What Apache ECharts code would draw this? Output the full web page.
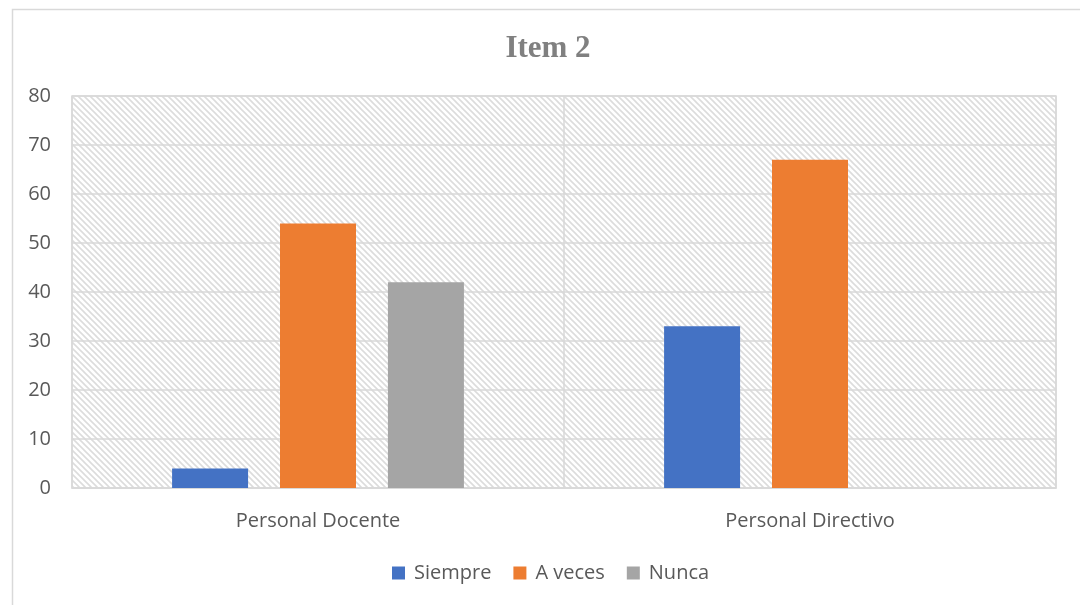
<!DOCTYPE html>
<html><head><meta charset="utf-8">
<script src="https://cdn.jsdelivr.net/npm/echarts@6/dist/echarts.min.js"></script>
<style>html,body{margin:0;padding:0;background:#fff}#c{width:1080px;height:605px}</style>
</head><body><div id="c"></div>
<script>
const categories = ['Personal Docente', 'Personal Directivo'];
const siempre = [4, 33];
const aVeces = [54, 67];
const nunca = [42, 0];
const yTicks = [0, 10, 20, 30, 40, 50, 60, 70, 80];

const pc = document.createElement('canvas');
pc.width = 6; pc.height = 6;
const g = pc.getContext('2d');
g.fillStyle = '#ffffff'; g.fillRect(0, 0, 6, 6);
g.strokeStyle = '#dcdcdc'; g.lineWidth = 1.6;
g.beginPath();
g.moveTo(-1, -1); g.lineTo(7, 7);
g.moveTo(-7, -1); g.lineTo(1, 7);
g.moveTo(5, -1); g.lineTo(13, 7);
g.stroke();

const chart = echarts.init(document.getElementById('c'), null, {renderer: 'canvas'});
const fontF = '"Open Sans", "Noto Sans", sans-serif';
chart.setOption({
  animation: false,
  title: {
    text: 'Item 2', left: 543, textAlign: 'center', top: 28,
    textStyle: {fontFamily: '"Liberation Serif", serif', fontWeight: 'bold', fontSize: 31, color: '#808080'}
  },
  graphic: [{
    type: 'rect', left: 10, top: 7, shape: {width: 1069, height: 600},
    style: {fill: 'none', stroke: '#d9d9d9', lineWidth: 1.5}, silent: true, z: -1
  }],
  legend: {
    bottom: 17, left: 387, itemWidth: 13, itemHeight: 13, itemGap: 22,
    icon: 'rect',
    textStyle: {fontFamily: fontF, fontSize: 20, color: '#595959', padding: [0, 0, 0, 4]},
    data: ['Siempre', 'A veces', 'Nunca']
  },
  grid: {
    left: 72, right: 24, top: 96, bottom: 117, show: true,
    backgroundColor: {image: pc, repeat: 'repeat'},
    borderColor: '#d9d9d9', borderWidth: 1.5
  },
  xAxis: {
    type: 'category', data: categories,
    axisLine: {lineStyle: {color: '#d9d9d9', width: 1.5}},
    axisTick: {show: false},
    splitLine: {show: true, lineStyle: {color: '#d9d9d9', width: 1.5}},
    axisLabel: {fontFamily: fontF, fontSize: 20, color: '#595959', margin: 23}
  },
  yAxis: {
    type: 'value', min: yTicks[0], max: yTicks[yTicks.length - 1], interval: 10,
    axisLine: {show: false}, axisTick: {show: false},
    splitLine: {lineStyle: {color: '#d9d9d9', width: 1.5}},
    axisLabel: {fontFamily: fontF, fontSize: 20, color: '#595959', margin: 21}
  },
  series: [
    {name: 'Siempre', type: 'bar', data: siempre, barWidth: 76, barGap: '42%', itemStyle: {color: '#4472C4'}},
    {name: 'A veces', type: 'bar', data: aVeces, barWidth: 76, barGap: '42%', itemStyle: {color: '#ED7D31'}},
    {name: 'Nunca', type: 'bar', data: nunca, barWidth: 76, barGap: '42%', itemStyle: {color: '#A5A5A5'}}
  ]
});
</script></body></html>
